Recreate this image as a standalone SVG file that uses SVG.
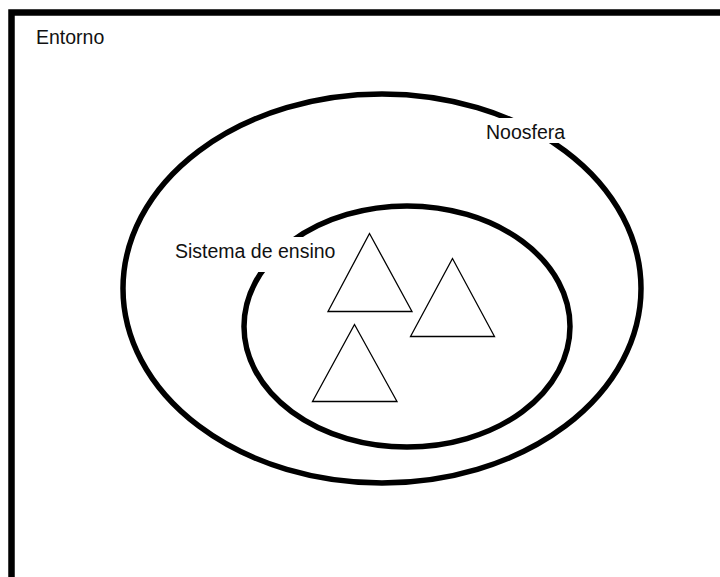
<svg xmlns="http://www.w3.org/2000/svg" width="720" height="577" viewBox="0 0 720 577">
<style>
.ring{fill:none;stroke:#000;stroke-width:5.5}
.tri{fill:#fff;stroke:#000;stroke-width:1.3}
.lbl{font-family:"Liberation Sans",Arial,sans-serif;font-size:19.5px;fill:#111}
.bg{fill:#fff}
</style>
<rect width="720" height="577" fill="#fff"/>
<g id="entorno">
<path d="M11.5,590 V12.5 H730" fill="none" stroke="#000" stroke-width="6.5"/>
<text class="lbl" x="36" y="44">Entorno</text>
</g>
<g id="noosfera">
<ellipse class="ring" cx="382" cy="288.5" rx="259" ry="194.5"/>
</g>
<g id="sistema">
<ellipse class="ring" cx="407" cy="326.5" rx="163" ry="120.5"/>
</g>
<g id="labels">
<rect class="bg" x="482" y="118" width="86" height="25"/>
<text class="lbl" x="486" y="139">Noosfera</text>
<rect class="bg" x="170" y="237" width="170" height="35"/>
<text class="lbl" x="175" y="258">Sistema de ensino</text>
</g>
<g id="triangulo1"><polygon class="tri" points="369.5,233.5 328,311.5 412,311.5"/></g>
<g id="triangulo2"><polygon class="tri" points="452.5,258.5 410.5,336.5 494.5,336.5"/></g>
<g id="triangulo3"><polygon class="tri" points="354.5,324.5 312.5,401.5 397,401.5"/></g>
<g id="connectors"></g>
</svg>
